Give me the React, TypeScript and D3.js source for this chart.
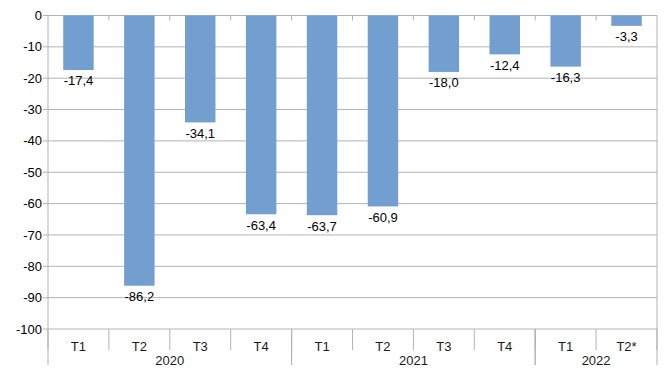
import React from "react";
import * as d3 from "d3";

const quarters = ["T1", "T2", "T3", "T4", "T1", "T2", "T3", "T4", "T1", "T2*"];
const years = ["2020", "2021", "2022"];
const yearSpans = [4, 4, 2];
const values = [-17.4, -86.2, -34.1, -63.4, -63.7, -60.9, -18.0, -12.4, -16.3, -3.3];
const yTicks = [0, -10, -20, -30, -40, -50, -60, -70, -80, -90, -100];

export default function App() {
  const W = 669, H = 376;
  const left = 48, right = 657, top = 15.5, bottom = 329;
  const x = d3.scaleBand<number>().domain(d3.range(values.length)).range([left, right]).paddingInner(0).paddingOuter(0);
  const y = d3.scaleLinear().domain([0, -100]).range([top, bottom]);
  const bw = x.bandwidth();
  const barW = bw * 0.5;
  const grid = "#b3b3b3";
  const fmt = (v: number) => v.toFixed(1).replace(".", ",");
  const font = "'Liberation Sans', Arial, sans-serif";
  let acc = 0;
  const yearBounds = yearSpans.map((s) => {
    const start = acc;
    acc += s;
    return [start, acc];
  });
  return (
    <svg width={W} height={H} style={{ position: "absolute", left: 0, top: 0 }} fontFamily={font}>
      <rect width={W} height={H} fill="#fff" />
      {yTicks.map((t) => (
        <g key={t}>
          <line x1={left - 5} x2={right} y1={y(t)} y2={y(t)} stroke={grid} strokeWidth={1} />
          <text x={left - 6} y={y(t)} dy="0.35em" textAnchor="end" fontSize={13} fill="#000">{t}</text>
        </g>
      ))}
      <line x1={left} x2={left} y1={top} y2={bottom} stroke={grid} />
      <line x1={right} x2={right} y1={top} y2={bottom} stroke={grid} />
      {values.map((v, i) => {
        const cx = (x(i) as number) + bw / 2;
        return (
          <g key={i}>
            <rect x={cx - barW / 2} y={y(0)} width={barW} height={y(v) - y(0)} fill="#729fcf" />
            <text x={cx} y={y(v) + 5} dy="0.8em" textAnchor="middle" fontSize={13} fill="#000">{fmt(v)}</text>
          </g>
        );
      })}
      {d3.range(1, values.length).map((i) => (
        <line key={"tt" + i} x1={x(i) as number} x2={x(i) as number} y1={top} y2={top + 5} stroke={grid} />
      ))}
      {d3.range(0, values.length + 1).map((i) => {
        const xx = i < values.length ? (x(i) as number) : right;
        return <line key={"cb" + i} x1={xx} x2={xx} y1={bottom} y2={bottom + 21} stroke={grid} />;
      })}
      {quarters.map((q, i) => (
        <text key={"q" + i} x={(x(i) as number) + bw / 2} y={bottom + 17.5} dy="0.35em" textAnchor="middle" fontSize={13} fill="#1a1a1a">{q}</text>
      ))}
      {yearBounds.map(([s, e], k) => {
        const x0 = x(s) as number;
        const x1 = e < values.length ? (x(e) as number) : right;
        return (
          <g key={"y" + k}>
            <line x1={x0} x2={x0} y1={bottom} y2={bottom + 36} stroke={grid} />
            <line x1={x1} x2={x1} y1={bottom} y2={bottom + 36} stroke={grid} />
            <text x={(x0 + x1) / 2} y={bottom + 31.5} dy="0.35em" textAnchor="middle" fontSize={13} fill="#1a1a1a">{years[k]}</text>
          </g>
        );
      })}
    </svg>
  );
}
